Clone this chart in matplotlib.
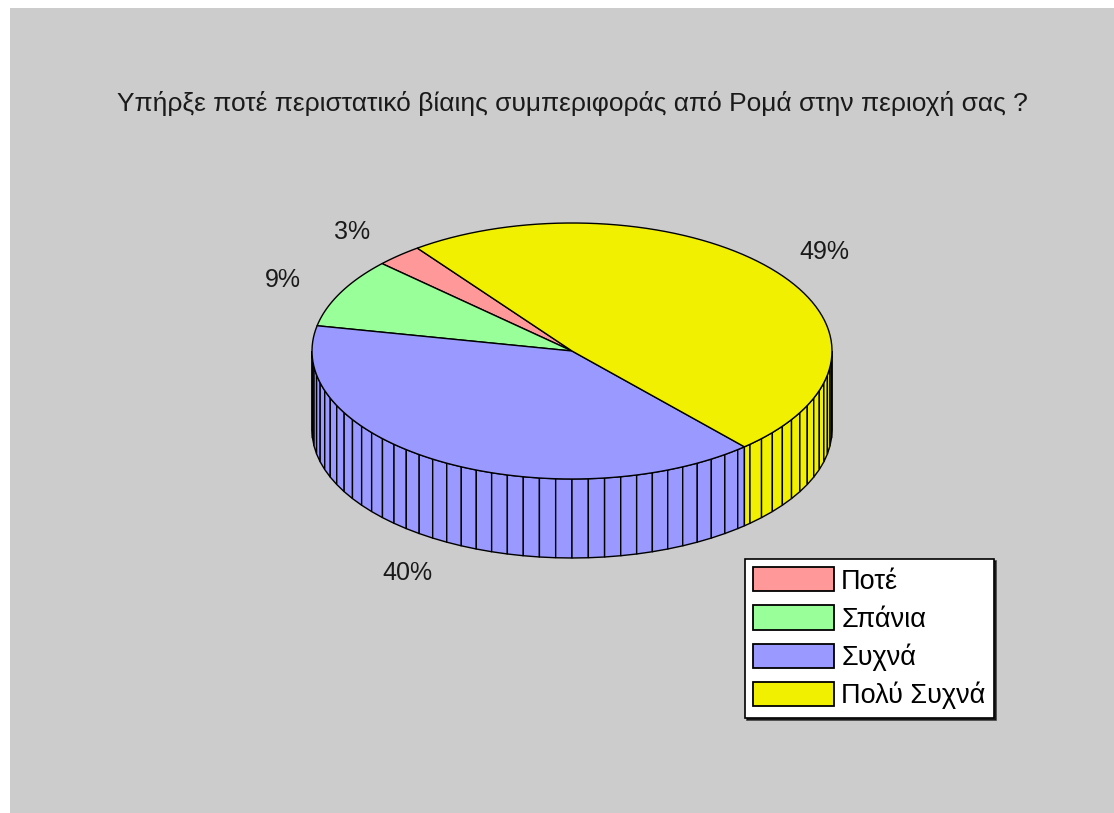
import numpy as np
import matplotlib
matplotlib.use("Agg")
import matplotlib.pyplot as plt
from matplotlib.patches import Polygon, Rectangle, Patch

plt.rcParams["font.family"] = ["Liberation Sans", "DejaVu Sans"]

# Data
categories = ["Ποτέ", "Σπάνια", "Συχνά", "Πολύ Συχνά"]
values = [2.9, 8.8, 39.7, 48.6]
colors = ["#ff9999", "#99ff99", "#9999ff", "#f0f000"]
title = "Υπήρξε ποτέ περιστατικό βίαιης συμπεριφοράς από Ρομά στην περιοχή σας ?"

# pie geometry (pixels)
W, H = 1114, 813
cx, cy = 572, 351
rx, ry = 260, 128
depth = 79
start = 126.5
seg_step = 3.6

fig = plt.figure(figsize=(W / 100, H / 100), dpi=100)
ax = fig.add_axes([0, 0, 1, 1])
ax.set_xlim(0, W)
ax.set_ylim(H, 0)
ax.axis("off")
ax.add_patch(Rectangle((10, 8), W, H, facecolor="#cccccc", edgecolor="none"))

fracs = np.array(values) / sum(values)
bounds = start + 360 * np.concatenate([[0], np.cumsum(fracs)])


def pt(t):
    r = np.radians(t)
    return cx + rx * np.cos(r), cy - ry * np.sin(r)


def slice_of(t):
    t = (t - start) % 360 + start
    for i in range(len(values)):
        if bounds[i] <= t < bounds[i + 1]:
            return i
    return len(values) - 1


# side wall, front half only
angs = list(np.arange(180, 360 + 1e-9, seg_step))
for b in bounds:
    bb = b % 360
    if 180 < bb < 360:
        angs.append(bb)
angs = sorted(set(np.round(angs, 6)))
for a, b in zip(angs[:-1], angs[1:]):
    x1, y1 = pt(a)
    x2, y2 = pt(b)
    i = slice_of((a + b) / 2)
    ax.add_patch(Polygon([(x1, y1), (x2, y2), (x2, y2 + depth), (x1, y1 + depth)],
                         closed=True, facecolor=colors[i], edgecolor="black",
                         linewidth=1.0, zorder=2))

# top wedges
for i in range(len(values)):
    ts = np.linspace(bounds[i], bounds[i + 1], 80)
    xs, ys = pt(ts)
    verts = [(cx, cy)] + list(zip(xs, ys))
    ax.add_patch(Polygon(verts, closed=True, facecolor=colors[i],
                         edgecolor="black", linewidth=1.0, zorder=3))

# percent labels
label_k = [1.27, 1.25, 1.27, 1.25]
for i, v in enumerate(values):
    mid = (bounds[i] + bounds[i + 1]) / 2
    r = np.radians(mid)
    lx = cx + label_k[i] * rx * np.cos(r)
    ly = cy - label_k[i] * ry * np.sin(r)
    if np.sin(r) < 0:
        ly += depth
    ax.text(lx, ly + 2, f"{v:.0f}%", fontsize=18, ha="center", va="center",
            color="#1a1a1a", zorder=4)

ax.text(572, 104, title, fontsize=19, ha="center", va="center", color="#1a1a1a")

handles = [Patch(facecolor=c, edgecolor="black", linewidth=1.3) for c in colors]
leg = fig.legend(handles, categories, loc="upper left",
                 bbox_to_anchor=(745 / W, 1 - 559 / H), borderaxespad=0,
                 fontsize=19.5, fancybox=False, edgecolor="black", framealpha=1,
                 handlelength=3.0, handleheight=1.0, handletextpad=0.25,
                 labelspacing=0.4, borderpad=0.3,
                 shadow={"color": "black", "alpha": 0.7, "ox": 1.5, "oy": -1.5})
leg.get_frame().set_linewidth(1.2)

fig.savefig("out.png", dpi=100, facecolor="white")
